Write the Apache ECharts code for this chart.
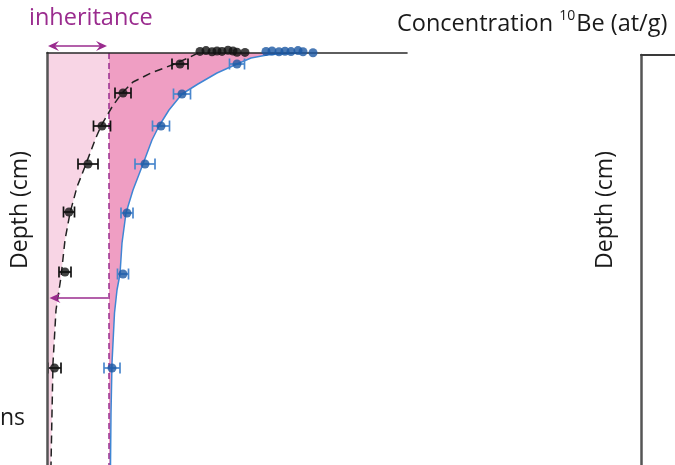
<!DOCTYPE html>
<html>
<head>
<meta charset="utf-8">
<script src="https://cdn.jsdelivr.net/npm/echarts@6/dist/echarts.min.js"></script>
<style>
  html, body { margin: 0; padding: 0; background: #fff; }
  #chart { width: 675px; height: 465px; }
</style>
</head>
<body>
<div id="chart"></div>
<script>
// Concentration in arbitrary units (x), depth in cm (y, downward)
const inheritance = 6.2;

// Modelled profile with inheritance (solid blue curve)
const curveDepth = [0, 0.5, 1, 2.5, 5.5, 10, 15.5, 20.5, 28.5, 36.5, 43.5, 55.5, 68.5, 80, 95, 110.5, 118.5, 130, 155, 180, 206];
const curveConc  = [25.0, 23.2, 22.0, 20.4, 19.0, 17.0, 15.1, 13.5, 12.2, 11.2, 10.5, 9.6, 8.6, 7.9, 7.5, 7.3, 7.0, 6.75, 6.5, 6.4, 6.35];

// Profile without inheritance (dashed black curve)
const modelDepth = [0, 2.5, 6, 10, 14.5, 20, 27, 36.5, 43.5, 55.5, 67, 80, 93.5, 112, 128.5, 155, 180, 206];
const modelConc  = [15.1, 14.1, 12.5, 10.4, 8.6, 7.5, 6.5, 5.4, 4.8, 3.9, 3.0, 2.3, 1.8, 1.4, 0.9, 0.6, 0.5, 0.4];

// Measured samples (blue) with 1-sigma errors
const blueDepth = [5.5, 20.5, 36.5, 55.5, 80, 110.5, 157.5];
const blueConc  = [19.0, 13.5, 11.4, 9.8, 8.0, 7.6, 6.5];
const blueErr   = [0.75, 0.85, 0.85, 1.0, 0.6, 0.55, 0.8];

// Samples corrected for inheritance (black)
const blackDepth = [5.5, 20, 36.5, 55.5, 79.5, 109.5, 157.5];
const blackConc  = [13.3, 7.6, 5.5, 4.1, 2.2, 1.8, 0.75];
const blackErr   = [0.8, 0.8, 0.85, 1.0, 0.55, 0.6, 0.65];

// Surface samples
const surfBlackConc  = [15.3, 15.9, 16.5, 17.0, 17.5, 18.1, 18.6, 19.0, 19.8];
const surfBlackDepth = [-0.8, -1.2, -0.6, -1.0, -0.8, -1.4, -1.0, -0.4, -0.3];
const surfBlueConc   = [21.9, 22.5, 23.2, 23.8, 24.4, 25.1, 25.6, 26.6];
const surfBlueDepth  = [-0.8, -1.0, -0.6, -0.9, -0.7, -1.2, -0.6, -0.1];

// Annotation arrows: [x1, y1, x2, y2, double-headed]
const arrowData = [
  [0.1, -3.5, 6.0, -3.5, 1],
  [6.1, 122.5, 0.25, 122.5, 0]
];

const DEPTH_MAX = 206;
const CONC_MAX = 36;

const purple = '#9a2b8e';
const lightPink = '#f8d5e5';
const darkPink = '#ef9ec3';
const bluePt = '#1c57a3';
const blueLine = '#3f86d4';
const blueBar = '#4a87cd';
const black = '#111111';
const FONT = '"Open Sans", "Noto Sans", sans-serif';

const zip = (xs, ys) => xs.map((x, i) => [x, ys[i]]);
const curvePts = zip(curveConc, curveDepth);
const modelPts = zip(modelConc, modelDepth);

function bandRenderer(leftEdge, rightEdge, fill) {
  return function (params, api) {
    const pts = leftEdge.concat(rightEdge.slice().reverse()).map(p => api.coord(p));
    return { type: 'polygon', shape: { points: pts }, style: { fill: fill } };
  };
}

function errorBarRenderer(params, api) {
  const lo = api.coord([api.value(0), api.value(2)]);
  const hi = api.coord([api.value(1), api.value(2)]);
  const cap = 5.5;
  const style = { stroke: api.visual('color'), lineWidth: 1.7 };
  return {
    type: 'group',
    children: [
      { type: 'line', shape: { x1: lo[0], y1: lo[1], x2: hi[0], y2: hi[1] }, style },
      { type: 'line', shape: { x1: lo[0], y1: lo[1] - cap, x2: lo[0], y2: lo[1] + cap }, style },
      { type: 'line', shape: { x1: hi[0], y1: hi[1] - cap, x2: hi[0], y2: hi[1] + cap }, style }
    ]
  };
}

function arrowHead(tip, dir) {
  const len = 11, half = 5, notch = 7;
  const [tx, ty] = tip;
  return {
    type: 'polygon',
    shape: { points: [
      [tx, ty],
      [tx - dir * len, ty - half],
      [tx - dir * notch, ty],
      [tx - dir * len, ty + half]
    ] },
    style: { fill: purple }
  };
}

function arrowRenderer(params, api) {
  const a = api.coord([api.value(0), api.value(1)]);
  const b = api.coord([api.value(2), api.value(3)]);
  const dir = b[0] >= a[0] ? 1 : -1;
  const children = [
    { type: 'line', shape: { x1: a[0] + (api.value(4) ? dir * 6 : 0), y1: a[1], x2: b[0] - dir * 6, y2: b[1] },
      style: { stroke: purple, lineWidth: 1.6 } },
    arrowHead(b, dir)
  ];
  if (api.value(4)) children.push(arrowHead(a, -dir));
  return { type: 'group', children };
}

const errData = (c, d, e) => c.map((v, i) => [v - e[i], v + e[i], d[i]]);

const hiddenAxisParts = {
  axisTick: { show: false },
  axisLabel: { show: false },
  splitLine: { show: false }
};

const option = {
  animation: false,
  backgroundColor: '#ffffff',
  grid: [
    { left: 47, top: 53, width: 360, height: 412 },
    { left: 641, top: 55, width: 300, height: 410 }
  ],
  xAxis: [
    Object.assign({ type: 'value', gridIndex: 0, position: 'top', min: 0, max: CONC_MAX, z: 5,
      axisLine: { show: true, onZero: false, lineStyle: { color: '#2a2a2a', width: 1.6 } } }, hiddenAxisParts),
    Object.assign({ type: 'value', gridIndex: 1, position: 'top', min: 0, max: CONC_MAX, z: 5,
      axisLine: { show: true, onZero: false, lineStyle: { color: '#3a3a3a', width: 2 } } }, hiddenAxisParts)
  ],
  yAxis: [
    Object.assign({ type: 'value', gridIndex: 0, inverse: true, min: 0, max: DEPTH_MAX, z: 5,
      axisLine: { show: true, onZero: false, lineStyle: { color: '#555555', width: 2.5 } } }, hiddenAxisParts),
    Object.assign({ type: 'value', gridIndex: 1, inverse: true, min: 0, max: DEPTH_MAX, z: 5,
      axisLine: { show: true, onZero: false, lineStyle: { color: '#555555', width: 2.5 } } }, hiddenAxisParts)
  ],
  series: [
    { // without-inheritance band
      type: 'custom', z: 1, silent: true,
      renderItem: bandRenderer([[0, 0], [0, DEPTH_MAX]], modelPts, lightPink),
      data: [[0, 0]]
    },
    { // inherited band
      type: 'custom', z: 1, silent: true,
      renderItem: bandRenderer([[inheritance, 0], [inheritance, DEPTH_MAX]], curvePts, darkPink),
      data: [[inheritance, 0]]
    },
    { // inheritance level
      type: 'line', z: 3, silent: true, symbol: 'none',
      data: [[inheritance, 0], [inheritance, DEPTH_MAX]],
      lineStyle: { color: purple, width: 1.5, type: [6, 4] }
    },
    {
      type: 'line', z: 3, silent: true, symbol: 'none',
      data: curvePts,
      lineStyle: { color: blueLine, width: 1.5 }
    },
    {
      type: 'line', z: 3, silent: true, symbol: 'none',
      data: modelPts,
      lineStyle: { color: '#222222', width: 1.5, type: [8, 5] }
    },
    {
      type: 'custom', z: 4, silent: true,
      itemStyle: { color: blueBar },
      renderItem: errorBarRenderer,
      encode: { x: [0, 1], y: 2 },
      data: errData(blueConc, blueDepth, blueErr)
    },
    {
      type: 'custom', z: 4, silent: true,
      itemStyle: { color: black },
      renderItem: errorBarRenderer,
      encode: { x: [0, 1], y: 2 },
      data: errData(blackConc, blackDepth, blackErr)
    },
    {
      type: 'scatter', z: 6, silent: true, symbolSize: 9,
      itemStyle: { color: bluePt },
      data: zip(blueConc, blueDepth)
    },
    {
      type: 'scatter', z: 6, silent: true, symbolSize: 9,
      itemStyle: { color: black },
      data: zip(blackConc, blackDepth)
    },
    {
      type: 'scatter', z: 10, silent: true, clip: false, symbolSize: 9,
      itemStyle: { color: black },
      data: zip(surfBlackConc, surfBlackDepth)
    },
    {
      type: 'scatter', z: 10, silent: true, clip: false, symbolSize: 9,
      itemStyle: { color: bluePt },
      data: zip(surfBlueConc, surfBlueDepth)
    },
    {
      type: 'custom', z: 8, silent: true, clip: false,
      renderItem: arrowRenderer,
      encode: { x: [0, 2], y: [1, 3] },
      data: arrowData
    }
  ],
  graphic: [
    { type: 'text', x: 29, y: 18, silent: true,
      style: { text: 'inheritance', font: '23.5px ' + FONT, fill: purple, align: 'left', verticalAlign: 'middle' } },
    { type: 'text', x: 397, y: 24, silent: true,
      style: {
        text: '{a|Concentration }{s|10}{a|Be (at/g)}',
        align: 'left', verticalAlign: 'middle',
        rich: {
          a: { font: '23.5px ' + FONT, fill: '#1a1a1a', lineHeight: 30 },
          s: { font: '14px ' + FONT, fill: '#1a1a1a', verticalAlign: 'top', lineHeight: 30, padding: [0, 1, 0, 0] }
        }
      } },
    { type: 'text', x: 20, y: 210, rotation: Math.PI / 2, silent: true,
      style: { text: 'Depth (cm)', font: '23px ' + FONT, fill: '#1a1a1a', align: 'center', verticalAlign: 'middle' } },
    { type: 'text', x: 605, y: 210, rotation: Math.PI / 2, silent: true,
      style: { text: 'Depth (cm)', font: '23px ' + FONT, fill: '#1a1a1a', align: 'center', verticalAlign: 'middle' } },
    { type: 'text', x: 0, y: 418, silent: true,
      style: { text: 'ns', font: '23px ' + FONT, fill: '#1a1a1a', align: 'left', verticalAlign: 'middle' } }
  ]
};

const chart = echarts.init(document.getElementById('chart'), null, { renderer: 'canvas' });
chart.setOption(option);
</script>
</body>
</html>
